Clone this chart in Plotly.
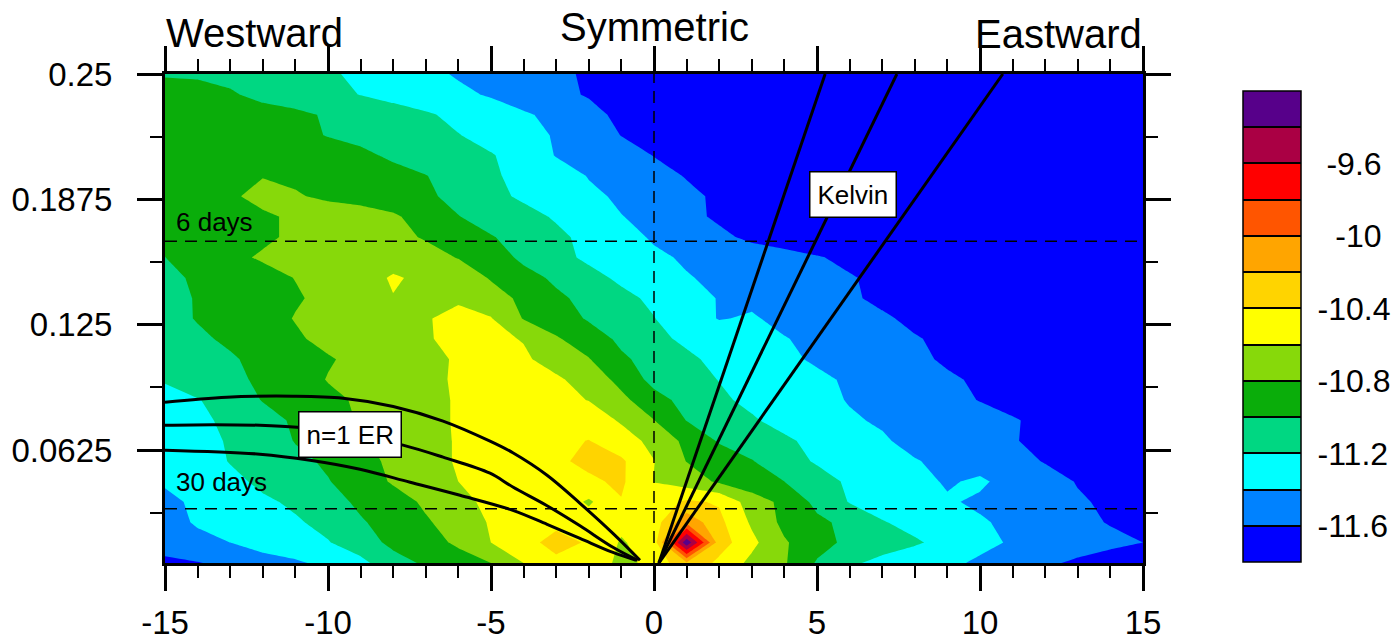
import plotly.graph_objects as go

FONT = "Liberation Sans, Arial, Helvetica, sans-serif"

# ---------------- data ----------------
wavenumber = [-15, -14, -13, -12, -11, -10, -9, -8, -7, -6, -5, -4, -3, -2, -1, 0,
              1, 2, 3, 4, 5, 6, 7, 8, 9, 10, 11, 12, 13, 14, 15]

frequency = [0.00625, 0.01641, 0.02656, 0.03672, 0.04688, 0.05703, 0.06719, 0.07734,
             0.0875, 0.09766, 0.10781, 0.11797, 0.12813, 0.13828, 0.14844, 0.15859,
             0.16875, 0.17891, 0.18906, 0.19922, 0.20938, 0.21953, 0.22969, 0.23984, 0.25]

# log10(power) per frequency row (wavenumber -15 .. 15)
pw_f00 = [-11.65, -11.61, -11.55, -11.47, -11.43, -11.35, -11.25, -11.08, -10.97, -10.88, -10.80, -10.60, -10.45, -10.50, -10.64, -10.56, -10.22, -10.45, -10.65, -10.78, -11.02, -11.17, -11.25, -11.30, -11.36, -11.43, -11.50, -11.57, -11.63, -11.68, -11.70]
pw_f01 = [-11.50, -11.45, -11.40, -11.33, -11.27, -11.21, -11.10, -10.95, -10.87, -10.77, -10.60, -10.47, -10.33, -10.42, -10.62, -10.50, -9.25, -10.30, -10.55, -10.78, -10.92, -11.05, -11.12, -11.18, -11.25, -11.35, -11.42, -11.47, -11.52, -11.56, -11.60]
pw_f02 = [-11.47, -11.38, -11.33, -11.27, -11.22, -11.15, -11.02, -10.92, -10.82, -10.72, -10.58, -10.50, -10.45, -10.50, -10.55, -10.50, -10.05, -10.35, -10.63, -10.85, -10.96, -11.05, -11.19, -11.25, -11.32, -11.38, -11.44, -11.50, -11.56, -11.61, -11.65]
pw_f03 = [-11.44, -11.37, -11.30, -11.23, -11.17, -11.08, -10.96, -10.88, -10.77, -10.66, -10.55, -10.48, -10.46, -10.63, -10.41, -10.50, -10.37, -10.42, -10.70, -10.85, -11.05, -11.21, -11.27, -11.32, -11.38, -11.43, -11.47, -11.52, -11.58, -11.63, -11.67]
pw_f04 = [-11.38, -11.33, -11.25, -11.16, -11.10, -11.01, -10.90, -10.78, -10.67, -10.60, -10.52, -10.48, -10.46, -10.43, -10.37, -10.605, -10.70, -10.83, -10.92, -11.00, -11.12, -11.23, -11.28, -11.34, -11.42, -11.37, -11.47, -11.53, -11.61, -11.65, -11.68]
pw_f05 = [-11.37, -11.30, -11.19, -11.13, -11.05, -10.97, -10.85, -10.77, -10.68, -10.58, -10.50, -10.46, -10.43, -10.36, -10.37, -10.595, -10.805, -10.88, -10.99, -11.12, -11.22, -11.27, -11.32, -11.39, -11.44, -11.48, -11.54, -11.61, -11.65, -11.68, -11.70]
pw_f06 = [-11.33, -11.27, -11.18, -11.12, -10.99, -10.91, -10.82, -10.75, -10.68, -10.58, -10.50, -10.47, -10.44, -10.395, -10.52, -10.65, -10.85, -11.02, -11.10, -11.17, -11.25, -11.32, -11.38, -11.45, -11.50, -11.55, -11.59, -11.64, -11.67, -11.70, -11.72]
pw_f07 = [-11.30, -11.23, -11.17, -11.08, -10.97, -10.89, -10.78, -10.72, -10.66, -10.58, -10.52, -10.48, -10.46, -10.50, -10.62, -10.795, -11.005, -11.10, -11.18, -11.26, -11.32, -11.38, -11.42, -11.47, -11.51, -11.55, -11.59, -11.63, -11.67, -11.70, -11.72]
pw_f08 = [-11.24, -11.21, -11.12, -10.99, -10.93, -10.85, -10.77, -10.71, -10.66, -10.58, -10.53, -10.50, -10.55, -10.605, -10.75, -10.93, -11.06, -11.17, -11.24, -11.30, -11.35, -11.41, -11.46, -11.51, -11.56, -11.605, -11.64, -11.67, -11.70, -11.72, -11.74]
pw_f09 = [-11.19, -11.10, -11.04, -10.97, -10.90, -10.79, -10.73, -10.69, -10.64, -10.58, -10.54, -10.53, -10.57, -10.68, -10.86, -11.06, -11.13, -11.205, -11.26, -11.32, -11.37, -11.42, -11.47, -11.52, -11.58, -11.62, -11.65, -11.68, -11.70, -11.72, -11.74]
pw_f10 = [-11.12, -11.07, -11.02, -10.95, -10.88, -10.82, -10.74, -10.70, -10.65, -10.58, -10.55, -10.57, -10.68, -10.79, -10.97, -11.07, -11.17, -11.24, -11.30, -11.37, -11.42, -11.47, -11.52, -11.57, -11.62, -11.65, -11.68, -11.70, -11.72, -11.74, -11.75]
pw_f11 = [-11.10, -11.03, -10.97, -10.90, -10.83, -10.74, -10.68, -10.64, -10.61, -10.57, -10.56, -10.61, -10.78, -10.90, -11.04, -11.16, -11.23, -11.28, -11.34, -11.39, -11.45, -11.50, -11.55, -11.59, -11.63, -11.66, -11.69, -11.71, -11.73, -11.75, -11.76]
pw_f12 = [-11.06, -10.99, -10.94, -10.88, -10.79, -10.72, -10.66, -10.62, -10.61, -10.56, -10.59, -10.81, -10.90, -11.02, -11.11, -11.195, -11.30, -11.41, -11.38, -11.45, -11.50, -11.54, -11.58, -11.63, -11.67, -11.70, -11.72, -11.74, -11.76, -11.78, -11.79]
pw_f13 = [-11.05, -10.99, -10.93, -10.88, -10.82, -10.75, -10.68, -10.605, -10.62, -10.62, -10.70, -10.85, -10.96, -11.06, -11.16, -11.23, -11.32, -11.41, -11.44, -11.50, -11.54, -11.58, -11.63, -11.67, -11.70, -11.72, -11.74, -11.76, -11.78, -11.79, -11.80]
pw_f14 = [-11.05, -10.97, -10.90, -10.86, -10.795, -10.72, -10.66, -10.585, -10.63, -10.66, -10.82, -10.92, -11.04, -11.15, -11.23, -11.30, -11.39, -11.43, -11.47, -11.51, -11.55, -11.59, -11.63, -11.67, -11.70, -11.73, -11.75, -11.77, -11.79, -11.80, -11.81]
pw_f15 = [-11.002, -10.90, -10.84, -10.78, -10.72, -10.70, -10.68, -10.66, -10.72, -10.81, -10.88, -11.05, -11.15, -11.23, -11.30, -11.37, -11.42, -11.46, -11.50, -11.55, -11.59, -11.63, -11.67, -11.70, -11.73, -11.75, -11.77, -11.79, -11.80, -11.81, -11.82]
pw_f16 = [-10.95, -10.90, -10.87, -10.83, -10.77, -10.72, -10.70, -10.74, -10.82, -10.88, -10.99, -11.06, -11.16, -11.25, -11.34, -11.42, -11.47, -11.56, -11.64, -11.67, -11.70, -11.72, -11.74, -11.76, -11.78, -11.80, -11.81, -11.82, -11.83, -11.84, -11.85]
pw_f17 = [-10.88, -10.86, -10.84, -10.82, -10.78, -10.74, -10.74, -10.78, -10.86, -10.995, -11.07, -11.14, -11.22, -11.30, -11.395, -11.45, -11.55, -11.63, -11.67, -11.70, -11.73, -11.75, -11.77, -11.79, -11.80, -11.82, -11.83, -11.84, -11.85, -11.86, -11.87]
pw_f18 = [-10.87, -10.85, -10.82, -10.76, -10.79, -10.82, -10.85, -10.88, -10.97, -11.05, -11.15, -11.23, -11.28, -11.36, -11.43, -11.49, -11.56, -11.63, -11.68, -11.71, -11.74, -11.76, -11.78, -11.80, -11.82, -11.83, -11.84, -11.85, -11.86, -11.87, -11.88]
pw_f19 = [-10.84, -10.83, -10.82, -10.805, -10.82, -10.85, -10.90, -10.94, -10.995, -11.07, -11.18, -11.24, -11.30, -11.41, -11.47, -11.54, -11.61, -11.66, -11.70, -11.73, -11.76, -11.78, -11.80, -11.82, -11.83, -11.84, -11.85, -11.86, -11.87, -11.88, -11.89]
pw_f20 = [-10.85, -10.84, -10.83, -10.83, -10.85, -10.90, -10.96, -11.03, -11.08, -11.12, -11.19, -11.26, -11.41, -11.46, -11.52, -11.605, -11.66, -11.70, -11.73, -11.76, -11.78, -11.80, -11.82, -11.83, -11.84, -11.85, -11.86, -11.87, -11.88, -11.89, -11.90]
pw_f21 = [-10.85, -10.85, -10.87, -10.90, -10.94, -11.01, -11.05, -11.09, -11.14, -11.195, -11.25, -11.32, -11.42, -11.48, -11.605, -11.65, -11.70, -11.74, -11.77, -11.79, -11.81, -11.83, -11.84, -11.85, -11.86, -11.87, -11.88, -11.89, -11.90, -11.91, -11.92]
pw_f22 = [-10.88, -10.88, -10.90, -10.93, -10.96, -11.02, -11.07, -11.12, -11.18, -11.24, -11.30, -11.38, -11.44, -11.52, -11.66, -11.70, -11.74, -11.77, -11.80, -11.82, -11.84, -11.85, -11.86, -11.87, -11.88, -11.89, -11.90, -11.91, -11.92, -11.93, -11.94]
pw_f23 = [-10.90, -10.92, -10.98, -11.05, -11.10, -11.15, -11.205, -11.26, -11.30, -11.36, -11.42, -11.48, -11.54, -11.62, -11.68, -11.73, -11.77, -11.80, -11.82, -11.84, -11.86, -11.87, -11.88, -11.89, -11.90, -11.91, -11.92, -11.93, -11.94, -11.95, -11.96]
pw_f24 = [-11.02, -11.03, -11.05, -11.10, -11.15, -11.18, -11.23, -11.28, -11.35, -11.42, -11.47, -11.52, -11.57, -11.62, -11.67, -11.72, -11.76, -11.80, -11.82, -11.84, -11.86, -11.88, -11.89, -11.90, -11.91, -11.92, -11.93, -11.94, -11.95, -11.96, -11.97]

power_rows = [pw_f00, pw_f01, pw_f02, pw_f03, pw_f04, pw_f05, pw_f06, pw_f07, pw_f08,
              pw_f09, pw_f10, pw_f11, pw_f12, pw_f13, pw_f14, pw_f15, pw_f16, pw_f17,
              pw_f18, pw_f19, pw_f20, pw_f21, pw_f22, pw_f23, pw_f24]

contour_levels = [-11.6, -11.4, -11.2, -11.0, -10.8, -10.6, -10.4, -10.2, -10.0, -9.8, -9.6, -9.4]
level_labels = ["\u00a0-11.6", "", "\u00a0-11.2", "", "\u00a0-10.8", "", "\u00a0-10.4", "",
                "\u00a0\u00a0\u00a0-10", "", "\u00a0\u00a0-9.6", ""]
band_colors = ["#0000FF", "#0082FF", "#00FFFF", "#00D782", "#0AAD0A", "#87D90A", "#FFFF00",
               "#FFD400", "#FFA500", "#FF5500", "#FF0000", "#AA0044", "#57008A"]

# dispersion curves
er_h50_k = [-15, -13.1, -11.07, -9.54, -8.0, -6.47, -5.03, -4.33, -3.28, -2.27, -1.26, -0.43]
er_h50_f = [0.0864, 0.0889, 0.0894, 0.0884, 0.0843, 0.0770, 0.0670, 0.0612, 0.0500, 0.0360, 0.0210, 0.0076]
er_h25_k = [-15, -13.5, -12.09, -10.95, -9.33, -7.7, -6.47, -5.03, -4.33, -3.28, -2.27, -1.26, -0.5]
er_h25_f = [0.0749, 0.0752, 0.0749, 0.0739, 0.0706, 0.0650, 0.0590, 0.0510, 0.0441, 0.0348, 0.0248, 0.0141, 0.0076]
er_h12_k = [-15, -12.09, -10.55, -9.02, -7.48, -5.95, -4.33, -3.28, -2.27, -1.26, -0.55]
er_h12_f = [0.0625, 0.0605, 0.0575, 0.0530, 0.0465, 0.0400, 0.0325, 0.0255, 0.0185, 0.0115, 0.0076]
kelvin_k = [[0.15, 5.25], [0.15, 7.45], [0.15, 10.7]]
kelvin_f = [0.00625, 0.25]

period_days = [6, 30]

# ---------------- figure ----------------
PLOT_L, PLOT_R, PLOT_T, PLOT_B = 165, 1143, 74, 563
PW, PH = PLOT_R - PLOT_L, PLOT_B - PLOT_T

scale = []
n = len(band_colors)
for i, c in enumerate(band_colors):
    scale.append([i / n, c])
    scale.append([(i + 1) / n, c])

fig = go.Figure()
fig.add_trace(go.Contour(
    x=wavenumber, y=frequency, z=power_rows,
    autocontour=False,
    contours=dict(start=contour_levels[0], end=contour_levels[-1], size=0.2,
                  coloring="fill", showlines=False),
    line=dict(smoothing=0, width=0),
    colorscale=scale, zmin=-11.8, zmax=-9.2,
    hoverinfo="skip",
    colorbar=dict(
        x=(1243 - PLOT_L) / PW, xanchor="left",
        y=(PLOT_B - 562) / PH, yanchor="bottom",
        thickness=58, thicknessmode="pixels",
        len=471 / PH, lenmode="fraction",
        xpad=0, ypad=0,
        outlinewidth=1.5, outlinecolor="black",
        tickmode="array", tickvals=contour_levels, ticktext=level_labels,
        ticks="inside", ticklen=58, tickwidth=1.5, tickcolor="black",
        tickfont=dict(size=32, color="black", family=FONT),
    ),
))

dash_style = dict(color="black", width=1.5, dash="12px,8px")
for p in period_days:
    fig.add_trace(go.Scatter(x=[wavenumber[0], wavenumber[-1]], y=[1 / p, 1 / p],
                             mode="lines", line=dash_style, hoverinfo="skip"))
fig.add_trace(go.Scatter(x=[0, 0], y=[frequency[0], frequency[-1]],
                         mode="lines", line=dash_style, hoverinfo="skip"))

curve_style = dict(color="black", width=3)
for kk, ff in [(er_h50_k, er_h50_f), (er_h25_k, er_h25_f), (er_h12_k, er_h12_f)]:
    fig.add_trace(go.Scatter(x=kk, y=ff, mode="lines", line=dict(curve_style, shape="spline"),
                             hoverinfo="skip"))
for kk in kelvin_k:
    fig.add_trace(go.Scatter(x=kk, y=kelvin_f, mode="lines", line=curve_style, hoverinfo="skip"))

axis_common = dict(
    showline=True, linewidth=3, linecolor="black", mirror="allticks",
    ticks="outside", ticklen=25, tickwidth=2.5, tickcolor="black",
    showgrid=False, zeroline=False, automargin=False,
    tickfont=dict(size=33, color="black", family=FONT),
)

fig.update_layout(
    width=1399, height=644,
    margin=dict(l=PLOT_L, r=1399 - PLOT_R, t=PLOT_T, b=644 - PLOT_B, autoexpand=False),
    paper_bgcolor="white", plot_bgcolor="white",
    showlegend=False,
    font=dict(family=FONT, color="black"),
    xaxis=dict(axis_common, range=[-15, 15], tickmode="array",
               tickvals=[-15, -10, -5, 0, 5, 10, 15],
               ticktext=["-15", "-10", "-5", "0", "5", "10", "15"],
               ticklabelstandoff=3,
               minor=dict(tickmode="linear", tick0=0, dtick=1, ticks="outside",
                          ticklen=12, tickwidth=1.5, tickcolor="black", showgrid=False)),
    yaxis=dict(axis_common, range=[frequency[0], frequency[-1]], tickmode="array",
               tickvals=[0.0625, 0.125, 0.1875, 0.25],
               ticktext=["0.0625", "0.125", "0.1875", "0.25"],
               ticklabelstandoff=18,
               minor=dict(tickmode="linear", tick0=0, dtick=0.03125, ticks="outside",
                          ticklen=12, tickwidth=1.5, tickcolor="black", showgrid=False)),
)

title_font = dict(size=40, color="black", family=FONT)
fig.add_annotation(text="Westward", xref="paper", yref="paper", x=0, y=(PLOT_B - 33) / PH,
                   xanchor="left", yanchor="middle", showarrow=False, font=title_font, borderpad=0)
fig.add_annotation(text="Symmetric", xref="x", yref="paper", x=0, y=(PLOT_B - 26.5) / PH,
                   xanchor="center", yanchor="middle", showarrow=False, font=title_font, borderpad=0)
fig.add_annotation(text="Eastward", xref="paper", yref="paper", x=1, y=(PLOT_B - 34) / PH,
                   xanchor="right", yanchor="middle", showarrow=False, font=title_font, borderpad=0)

label_font = dict(size=26, color="black", family=FONT)
fig.add_annotation(text="6 days", x=-14.7, y=0.1762, xanchor="left", yanchor="middle",
                   showarrow=False, font=label_font, borderpad=0)
fig.add_annotation(text="30 days", x=-14.7, y=0.0465, xanchor="left", yanchor="middle",
                   showarrow=False, font=label_font, borderpad=0)
fig.add_annotation(text="Kelvin", x=6.09, y=0.190, xanchor="center", yanchor="middle",
                   showarrow=False, font=label_font, bgcolor="white",
                   bordercolor="black", borderwidth=1.5, borderpad=7)
fig.add_annotation(text="n=1 ER", x=-9.33, y=0.0704, xanchor="center", yanchor="middle",
                   showarrow=False, font=label_font, bgcolor="white",
                   bordercolor="black", borderwidth=1.5, borderpad=7)

fig.write_html("out.html")
